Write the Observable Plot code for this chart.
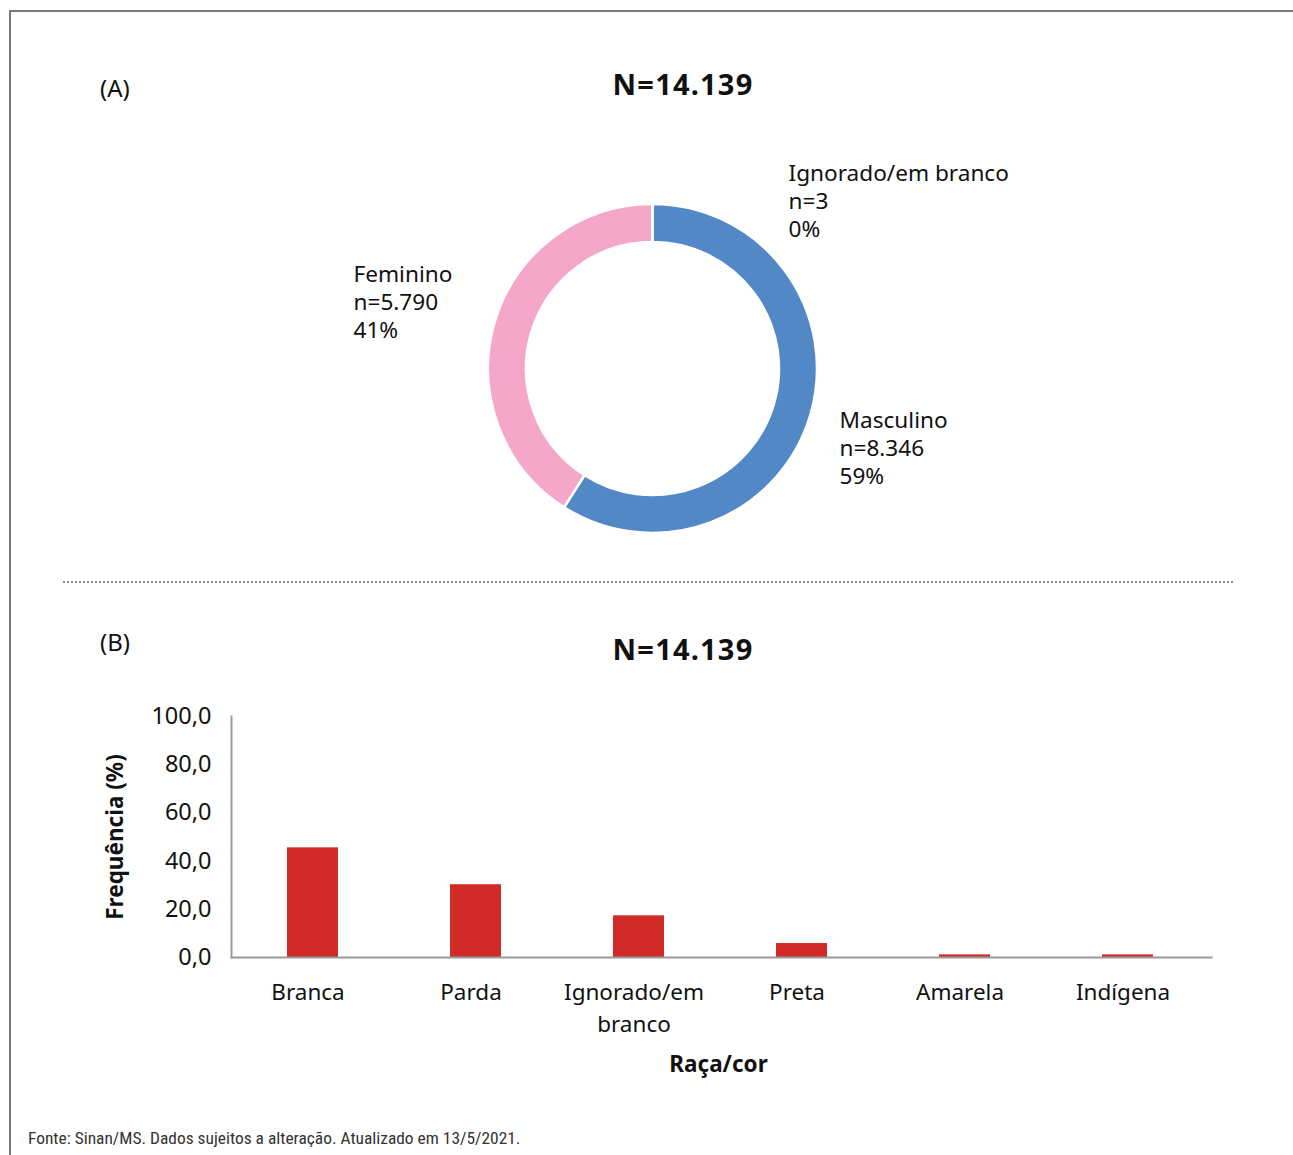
<!DOCTYPE html>
<html><head><meta charset="utf-8">
<script src="https://cdn.jsdelivr.net/npm/d3@7"></script>
<script src="https://cdn.jsdelivr.net/npm/@observablehq/plot@0.6"></script>
<style>
html,body{margin:0;padding:0;background:#fff;}
body{width:1293px;height:1155px;position:relative;overflow:hidden;font-family:"Noto Sans",sans-serif;color:#111;}
#frame{position:absolute;left:9px;top:10px;width:1300px;height:1200px;border-left:2px solid #7a7a7a;border-top:2px solid #7a7a7a;}
.t{position:absolute;white-space:nowrap;}
.panel{position:absolute;font-size:24px;}
.title{position:absolute;font-size:29px;font-weight:bold;left:0;width:1366px;text-align:center;letter-spacing:1.2px;}
#sep{position:absolute;left:63px;top:581px;width:1170px;border-top:2px dotted #8a8a8a;}
#foot{position:absolute;left:28px;top:1128px;font-family:"Liberation Sans Narrow","Roboto Condensed","Noto Sans",sans-serif;font-size:17.4px;color:#333;}
#donut{position:absolute;left:0;top:120px;}
#bars{position:absolute;left:0;top:680px;}
</style></head>
<body>
<div id="frame"></div>
<div class="panel t" style="left:100px;top:71px;">(A)</div>
<div class="title t" style="top:64px;">N=14.139</div>
<div id="donut"></div>
<div id="sep"></div>
<div class="panel t" style="left:100px;top:625px;">(B)</div>
<div class="title t" style="top:629px;">N=14.139</div>
<div id="bars"></div>
<div id="foot">Fonte: Sinan/MS. Dados sujeitos a alteração. Atualizado em 13/5/2021.</div>
<script>
// ---- Data ----
const sexCategories = ["Masculino", "Feminino", "Ignorado/em branco"];
const sexCounts = [8346, 5790, 3];
const sexCountLabels = ["n=8.346", "n=5.790", "n=3"];
const sexPctLabels = ["59%", "41%", "0%"];
const sexColors = ["#5288c6", "#f5a7c9", "#a5a5a5"];

const raceCategories = ["Branca", "Parda", "Ignorado/em branco", "Preta", "Amarela", "Indígena"];
const raceValues = [45.5, 30.2, 17.3, 5.8, 1.1, 1.1];
const raceTickLabels = ["Branca", "Parda", "Ignorado/em\nbranco", "Preta", "Amarela", "Indígena"];
const yTicks = [0, 20, 40, 60, 80, 100];

// ---- Donut (panel A) ----
const sexData = sexCategories.map((c, i) => ({cat: c, n: sexCounts[i], nl: sexCountLabels[i], pl: sexPctLabels[i], color: sexColors[i]}));
// label placement offsets relative to donut center (annotation layout)
const labelOffsets = {"Masculino": [187, 59, "start"], "Feminino": [-299, -87, "start"], "Ignorado/em branco": [136, -188, "start"]};

const donut = Plot.plot({
  width: 1293, height: 450,
  margin: 0,
  x: {axis: null, domain: [-652.5, 640.5]},
  y: {axis: null, domain: [-248.5, 201.5], reverse: true},
  marks: [
    (index, scales, values, dims) => {
      const cx = scales.x(0), cy = scales.y(0);
      const g = d3.create("svg:g").attr("transform", `translate(${cx},${cy})`);
      const pie = d3.pie().sort(null).value(d => d.n)(sexData);
      const arc = d3.arc().innerRadius(126.5).outerRadius(164.5);
      g.selectAll("path").data(pie).join("path")
        .attr("d", arc)
        .attr("fill", d => d.data.color)
        .attr("stroke", "#fff").attr("stroke-width", 2.5);
      const lab = g.selectAll("text").data(sexData).join("text")
        .attr("font-family", "Noto Sans, sans-serif").attr("font-size", 22.6).attr("fill", "#111")
        .attr("text-anchor", d => labelOffsets[d.cat][2])
        .attr("transform", d => `translate(${labelOffsets[d.cat][0]},${labelOffsets[d.cat][1]})`);
      lab.selectAll("tspan").data(d => [d.cat, d.nl, d.pl]).join("tspan")
        .attr("x", 0).attr("dy", (d, i) => i === 0 ? 0 : 28).text(d => d);
      return g.node();
    }
  ]
});
document.getElementById("donut").appendChild(donut);

// ---- Bars (panel B) ----
const raceData = raceCategories.map((c, i) => ({cat: c, v: raceValues[i]}));
const tickLabelMap = new Map(raceCategories.map((c, i) => [c, raceTickLabels[i]]));

const bars = Plot.plot({
  width: 1293, height: 420,
  marginLeft: 231, marginRight: 82, marginTop: 36, marginBottom: 143,
  style: {fontFamily: "Noto Sans, sans-serif", fontSize: "22px", color: "#111"},
  x: {domain: raceCategories, padding: 0, label: null},
  y: {domain: [0, 100], label: null},
  marks: [
    Plot.barY(raceData, {x: "cat", y: "v", fill: "#d02b27", insetLeft: 55, insetRight: 57}),
    Plot.frame({anchor: "left", stroke: "#9a9a9a", strokeWidth: 2}),
    Plot.frame({anchor: "bottom", stroke: "#9a9a9a", strokeWidth: 2}),
    Plot.axisY({ticks: yTicks, tickSize: 0, tickPadding: 20, fontSize: 23.5, label: null,
      tickFormat: d => d.toFixed(1).replace(".", ",")}),
    Plot.axisX({tickSize: 0, tickPadding: 19, dx: -6, fontSize: 22.5, label: null, lineHeight: 1.45,
      tickFormat: d => tickLabelMap.get(d)}),
    Plot.text(["Raça/cor"], {frameAnchor: "bottom", dx: -3, dy: 114, fontSize: 22.5, fontWeight: "bold", text: d => d}),
    Plot.text(["Frequência (%)"], {frameAnchor: "left", dx: -116, rotate: -90, textAnchor: "middle", fontSize: 22.5, fontWeight: "bold", text: d => d})
  ]
});
document.getElementById("bars").appendChild(bars);
</script>
</body></html>
